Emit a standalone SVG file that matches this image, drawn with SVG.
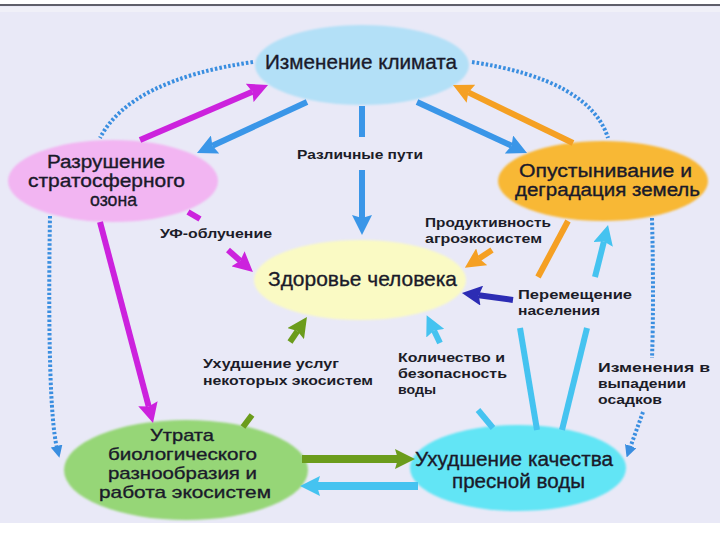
<svg xmlns="http://www.w3.org/2000/svg" width="720" height="540" viewBox="0 0 720 540">
<style>
.nt{font-family:"Liberation Sans",Arial,sans-serif;font-size:18px;fill:#1a1a2a;stroke:#1a1a2a;stroke-width:0.35}
.lb{font-family:"Liberation Sans",Arial,sans-serif;font-size:13px;font-weight:bold;fill:#1c1c28}
.ln{fill:none;stroke-width:6;stroke-linecap:butt}
.dot{fill:none;stroke:#3a8ee0;stroke-width:4;stroke-dasharray:2.5 2}
.blue{stroke:#3a96e8}.mag{stroke:#cc22dd}.org{stroke:#f5a023}.cya{stroke:#45c3f0}.grn{stroke:#6b9c1c}.ind{stroke:#2c2cb4}
</style>
<defs>
<filter id="soft" x="-10%" y="-10%" width="120%" height="120%"><feGaussianBlur stdDeviation="1.2"/></filter>
<marker id="ah-blue" markerUnits="userSpaceOnUse" markerWidth="20" markerHeight="20" viewBox="0 0 20 20" refX="3" refY="10" orient="auto"><path d="M0,0 L20,10 L0,20 L3,10 z" fill="#3a96e8"/></marker>
<marker id="ah-mag" markerUnits="userSpaceOnUse" markerWidth="20" markerHeight="20" viewBox="0 0 20 20" refX="3" refY="10" orient="auto"><path d="M0,0 L20,10 L0,20 L3,10 z" fill="#cc22dd"/></marker>
<marker id="ah-org" markerUnits="userSpaceOnUse" markerWidth="20" markerHeight="20" viewBox="0 0 20 20" refX="3" refY="10" orient="auto"><path d="M0,0 L20,10 L0,20 L3,10 z" fill="#f5a023"/></marker>
<marker id="ah-cya" markerUnits="userSpaceOnUse" markerWidth="20" markerHeight="20" viewBox="0 0 20 20" refX="3" refY="10" orient="auto"><path d="M0,0 L20,10 L0,20 L3,10 z" fill="#45c3f0"/></marker>
<marker id="ah-grn" markerUnits="userSpaceOnUse" markerWidth="20" markerHeight="20" viewBox="0 0 20 20" refX="3" refY="10" orient="auto"><path d="M0,0 L20,10 L0,20 L3,10 z" fill="#6b9c1c"/></marker>
<marker id="ah-ind" markerUnits="userSpaceOnUse" markerWidth="20" markerHeight="20" viewBox="0 0 20 20" refX="3" refY="10" orient="auto"><path d="M0,0 L20,10 L0,20 L3,10 z" fill="#2c2cb4"/></marker>
<marker id="ah-dot" markerUnits="userSpaceOnUse" markerWidth="12" markerHeight="12" viewBox="0 0 12 12" refX="2" refY="6" orient="auto"><path d="M0,0 L12,6 L0,12 z" fill="#3a8ee0"/></marker>
</defs>
<rect x="0" y="0" width="720" height="540" fill="#ffffff"/>
<rect x="0" y="6" width="720" height="517" fill="#e9e9f7"/>
<rect x="0" y="7" width="720" height="5" fill="#f0f0f8"/>
<line x1="0" y1="5" x2="720" y2="5" stroke="#2a2a38" stroke-width="1.5"/>

<g id="node-climate">
<ellipse cx="362" cy="65" rx="107" ry="40" fill="#b3e0f7" filter="url(#soft)"/>
<text class="nt" x="265" y="69" textLength="192" lengthAdjust="spacingAndGlyphs" style="font-size:21px">Изменение климата</text>
</g>
<g id="node-ozone">
<ellipse cx="113" cy="181" rx="105" ry="41" fill="#f2b5f2" filter="url(#soft)"/>
<text class="nt" x="47" y="168" textLength="118" lengthAdjust="spacingAndGlyphs">Разрушение</text>
<text class="nt" x="28" y="187" textLength="157" lengthAdjust="spacingAndGlyphs">стратосферного</text>
<text class="nt" x="90" y="206" textLength="47" lengthAdjust="spacingAndGlyphs">озона</text>
</g>
<g id="node-desert">
<ellipse cx="603" cy="181" rx="105" ry="40" fill="#f8b835" filter="url(#soft)"/>
<text class="nt" x="519" y="177" textLength="173" lengthAdjust="spacingAndGlyphs">Опустынивание и</text>
<text class="nt" x="515" y="196" textLength="185" lengthAdjust="spacingAndGlyphs">деградация земель</text>
</g>
<g id="node-health">
<ellipse cx="360" cy="280" rx="106" ry="40" fill="#fafac4" filter="url(#soft)"/>
<text class="nt" x="268" y="286" textLength="189" lengthAdjust="spacingAndGlyphs" style="font-size:21px">Здоровье человека</text>
</g>
<g id="node-biodiversity">
<ellipse cx="186" cy="470" rx="122" ry="50" fill="#96d677" filter="url(#soft)"/>
<text class="nt" x="150" y="441" textLength="64" lengthAdjust="spacingAndGlyphs" style="font-size:17px">Утрата</text>
<text class="nt" x="108" y="460" textLength="149" lengthAdjust="spacingAndGlyphs" style="font-size:17px">биологического</text>
<text class="nt" x="108" y="479" textLength="149" lengthAdjust="spacingAndGlyphs" style="font-size:17px">разнообразия и</text>
<text class="nt" x="99" y="498" textLength="172" lengthAdjust="spacingAndGlyphs" style="font-size:17px">работа экосистем</text>
</g>
<g id="node-freshwater">
<ellipse cx="518" cy="468" rx="108" ry="43" fill="#62e5f5" filter="url(#soft)"/>
<text class="nt" x="415" y="466" textLength="198" lengthAdjust="spacingAndGlyphs" style="font-size:20px">Ухудшение качества</text>
<text class="nt" x="452" y="488" textLength="133" lengthAdjust="spacingAndGlyphs" style="font-size:20px">пресной воды</text>
</g>

<g id="connectors">
<path class="dot" d="M253,62 Q130,80 100,138"/>
<path class="dot" d="M472,62 Q590,80 608,138"/>
<path class="dot" d="M50,216 C48,330 50,420 57,448" marker-end="url(#ah-dot)"/>
<path class="dot" d="M652,218 Q654,300 652,358"/>
<path class="dot" d="M643,412 L630,448" marker-end="url(#ah-dot)"/>

<path class="ln blue" d="M307,102 L212.4,145.8" marker-end="url(#ah-blue)"/>
<path class="ln mag" d="M140,140 L252.4,91.7" marker-end="url(#ah-mag)"/>
<path class="ln blue" d="M417,102 L511.6,145.8" marker-end="url(#ah-blue)"/>
<path class="ln org" d="M573,143 L468.3,92.4" marker-end="url(#ah-org)"/>
<path class="ln blue" d="M362,106 L362,137"/>
<path class="ln blue" d="M362,170 L362,218" marker-end="url(#ah-blue)"/>
<path class="ln mag" d="M100,222 L148.7,406.6" marker-end="url(#ah-mag)"/>
<path class="ln mag" d="M188,212 L200,219"/>
<path class="ln mag" d="M228,250 L240.2,260.8" marker-end="url(#ah-mag)"/>
<path class="ln org" d="M568,221 L538,277"/>
<path class="ln org" d="M492,250 L479.1,258.4" marker-end="url(#ah-org)"/>
<path class="ln ind" d="M513,300 L478.8,295.3" marker-end="url(#ah-ind)"/>
<path class="ln cya" d="M520,328 L537,430"/>
<path class="ln cya" d="M587,328 L562,430"/>
<path class="ln cya" d="M595,277 L603.9,241.5" marker-end="url(#ah-cya)"/>
<path class="ln cya" d="M478,410 L493,428"/>
<path class="ln cya" d="M440,343 L434,330.5" marker-end="url(#ah-cya)"/>
<path class="ln grn" d="M252,415 L243,427"/>
<path class="ln grn" d="M290,342 L297.4,331.1" marker-end="url(#ah-grn)"/>
<path class="ln grn" d="M302,459 L398,459" style="stroke-width:8" marker-end="url(#ah-grn)"/>
<path class="ln cya" d="M418,486 L317,486" style="stroke-width:8" marker-end="url(#ah-cya)"/>
</g>

<g id="labels">
<text class="lb" x="297" y="159" textLength="126" lengthAdjust="spacingAndGlyphs">Различные пути</text>
<text class="lb" x="160" y="238" textLength="112" lengthAdjust="spacingAndGlyphs">УФ-облучение</text>
<text class="lb" x="425" y="227" textLength="126" lengthAdjust="spacingAndGlyphs">Продуктивность</text>
<text class="lb" x="425" y="243" textLength="117" lengthAdjust="spacingAndGlyphs">агроэкосистем</text>
<text class="lb" x="518" y="299" textLength="114" lengthAdjust="spacingAndGlyphs">Перемещение</text>
<text class="lb" x="518" y="315" textLength="82" lengthAdjust="spacingAndGlyphs">населения</text>
<text class="lb" x="203" y="368" textLength="136" lengthAdjust="spacingAndGlyphs">Ухудшение услуг</text>
<text class="lb" x="203" y="385" textLength="170" lengthAdjust="spacingAndGlyphs">некоторых экосистем</text>
<text class="lb" x="398" y="362" textLength="107" lengthAdjust="spacingAndGlyphs">Количество и</text>
<text class="lb" x="398" y="378" textLength="109" lengthAdjust="spacingAndGlyphs">безопасность</text>
<text class="lb" x="398" y="394" textLength="38" lengthAdjust="spacingAndGlyphs">воды</text>
<text class="lb" x="598" y="372" textLength="112" lengthAdjust="spacingAndGlyphs">Изменения в</text>
<text class="lb" x="598" y="388" textLength="88" lengthAdjust="spacingAndGlyphs">выпадении</text>
<text class="lb" x="598" y="404" textLength="64" lengthAdjust="spacingAndGlyphs">осадков</text>
</g>
</svg>
